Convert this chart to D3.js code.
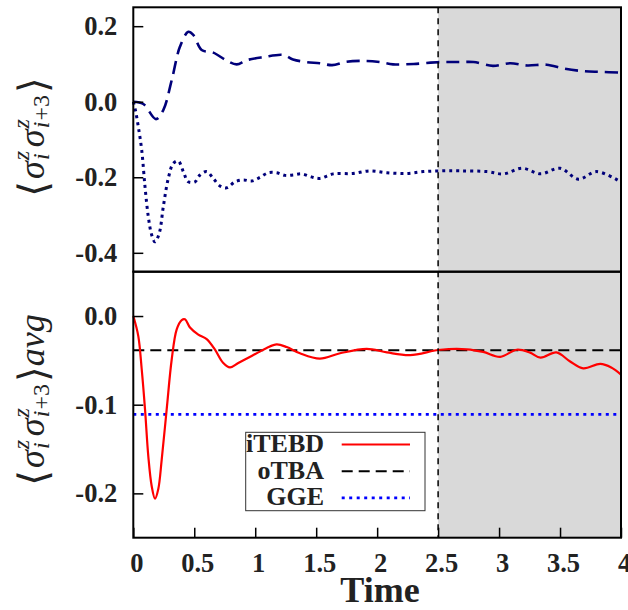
<!DOCTYPE html>
<html>
<head>
<meta charset="utf-8">
<script src="https://cdn.jsdelivr.net/npm/d3@7"></script>
<style>
  body { margin: 0; background: #fff; }
  svg { display: block; }
</style>
</head>
<body>
<div id="chart"></div>
<script>
// ---- data ----
const xTicks = [0, 0.5, 1, 1.5, 2, 2.5, 3, 3.5, 4];
const topTicks = [0.2, 0.0, -0.2, -0.4];
const botTicks = [0.0, -0.1, -0.2];
const shadeStart = 2.5;

// top panel, dashed curve
const dashT = [0, 0.082, 0.186, 0.246, 0.315, 0.383, 0.451, 0.492, 0.561, 0.656, 0.766, 0.848, 0.93, 1.067, 1.23, 1.31, 1.42, 1.53, 1.63, 1.75, 1.915, 2.02, 2.13, 2.30, 2.52, 2.68, 2.79, 2.95, 3.09, 3.23, 3.39, 3.53, 3.69, 3.83, 4.0];
const dashV = [0, -0.006, -0.046, -0.022, 0.057, 0.146, 0.185, 0.177, 0.137, 0.130, 0.109, 0.099, 0.110, 0.118, 0.124, 0.112, 0.105, 0.102, 0.097, 0.106, 0.108, 0.105, 0.099, 0.100, 0.105, 0.105, 0.105, 0.095, 0.102, 0.096, 0.098, 0.088, 0.081, 0.079, 0.077];

// top panel, dotted curve
const dotT = [0, 0.014, 0.041, 0.069, 0.096, 0.123, 0.151, 0.178, 0.213, 0.246, 0.287, 0.328, 0.369, 0.41, 0.451, 0.506, 0.547, 0.602, 0.656, 0.711, 0.766, 0.834, 0.902, 0.971, 1.04, 1.107, 1.176, 1.245, 1.31, 1.38, 1.46, 1.53, 1.64, 1.80, 1.94, 2.08, 2.24, 2.38, 2.52, 2.68, 2.90, 3.035, 3.19, 3.34, 3.50, 3.65, 3.80, 3.98];
const dotV = [0, -0.017, -0.066, -0.128, -0.225, -0.304, -0.353, -0.371, -0.348, -0.278, -0.203, -0.163, -0.157, -0.185, -0.212, -0.212, -0.194, -0.185, -0.203, -0.223, -0.228, -0.212, -0.207, -0.210, -0.200, -0.188, -0.188, -0.195, -0.194, -0.191, -0.199, -0.203, -0.191, -0.190, -0.183, -0.188, -0.190, -0.185, -0.183, -0.183, -0.185, -0.191, -0.176, -0.191, -0.176, -0.205, -0.185, -0.209];

// bottom panel, iTEBD
const tebdT = [0, 0.041, 0.069, 0.096, 0.123, 0.151, 0.178, 0.205, 0.233, 0.274, 0.315, 0.356, 0.397, 0.424, 0.465, 0.533, 0.602, 0.67, 0.738, 0.793, 0.861, 0.943, 1.025, 1.094, 1.176, 1.258, 1.367, 1.53, 1.696, 1.915, 2.08, 2.27, 2.52, 2.735, 2.87, 3.01, 3.145, 3.25, 3.34, 3.47, 3.58, 3.69, 3.83, 3.92, 4.0];
const tebdV = [0, -0.0226, -0.060, -0.105, -0.158, -0.192, -0.206, -0.195, -0.162, -0.105, -0.049, -0.015, -0.0045, -0.0037, -0.013, -0.021, -0.026, -0.038, -0.053, -0.058, -0.053, -0.047, -0.041, -0.036, -0.032, -0.035, -0.042, -0.048, -0.042, -0.037, -0.041, -0.044, -0.038, -0.0375, -0.0405, -0.046, -0.038, -0.041, -0.047, -0.041, -0.051, -0.059, -0.054, -0.058, -0.066];

const otbaValue = -0.0387;
const ggeValue = -0.111;

const legendNames = ["iTEBD", "oTBA", "GGE"];

// ---- layout ----
const width = 628, height = 610;
const left = 133.3, right = 621;
const top1 = 7.3, mid = 271.7, bottom = 537.7;
const serif = "'Liberation Serif', 'Times New Roman', serif";

const svg = d3.select("#chart").append("svg")
  .attr("width", width)
  .attr("height", height);

const x = d3.scaleLinear().domain([0, 4]).range([left, right]);
const yTop = d3.scaleLinear().domain([-0.45, 0.25]).range([mid, top1]);
const yBot = d3.scaleLinear().domain([-0.25, 0.05]).range([bottom, mid]);

// shaded region
svg.append("rect")
  .attr("x", x(shadeStart)).attr("y", top1)
  .attr("width", x(4) - x(shadeStart)).attr("height", bottom - top1)
  .attr("fill", "#d9d9d9");

const styles = {
  navyDash: { stroke: "#00007a", width: 2.6, dash: "13,7" },
  navyDot: { stroke: "#00007a", width: 3, dash: "3,4" },
  red: { stroke: "#ff0000", width: 2.2, dash: null },
  black: { stroke: "#000", width: 2, dash: "11,6" },
  blue: { stroke: "#0000ff", width: 2.8, dash: "3,4.5" }
};

function drawCurve(ts, vs, yScale, st) {
  const pts = ts.map((t, i) => [t, vs[i]]);
  const line = d3.line()
    .x((d) => x(d[0]))
    .y((d) => yScale(d[1]))
    .curve(d3.curveCatmullRom.alpha(0.5));
  svg.append("path")
    .datum(pts)
    .attr("d", line)
    .attr("fill", "none")
    .attr("stroke", st.stroke)
    .attr("stroke-width", st.width)
    .attr("stroke-dasharray", st.dash);
}

// constant lines in bottom panel
function drawFlat(v, st) {
  svg.append("line")
    .attr("x1", x(0)).attr("x2", x(4))
    .attr("y1", yBot(v)).attr("y2", yBot(v))
    .attr("stroke", st.stroke)
    .attr("stroke-width", st.width)
    .attr("stroke-dasharray", st.dash);
}

drawFlat(otbaValue, styles.black);
drawFlat(ggeValue, styles.blue);
drawCurve(tebdT, tebdV, yBot, styles.red);
drawCurve(dashT, dashV, yTop, styles.navyDash);
drawCurve(dotT, dotV, yTop, styles.navyDot);

// vertical dashed marker
svg.append("line")
  .attr("x1", x(shadeStart)).attr("x2", x(shadeStart))
  .attr("y1", top1).attr("y2", bottom)
  .attr("stroke", "#000").attr("stroke-width", 1.5)
  .attr("stroke-dasharray", "6,5");

// axes
const axTop = svg.append("g").attr("transform", `translate(${left},0)`)
  .call(d3.axisLeft(yTop).tickValues(topTicks).tickSize(-10).tickPadding(16).tickFormat(d3.format(".1f")));
const axBot = svg.append("g").attr("transform", `translate(${left},0)`)
  .call(d3.axisLeft(yBot).tickValues(botTicks).tickSize(-10).tickPadding(16).tickFormat(d3.format(".1f")));
const axX = svg.append("g").attr("transform", `translate(0,${bottom})`)
  .call(d3.axisBottom(x).tickValues(xTicks).tickSize(-10).tickPadding(15).tickFormat(d3.format("")));
[axTop, axBot, axX].forEach((g) => {
  g.select(".domain").remove();
  g.selectAll(".tick line").attr("stroke", "#000").attr("stroke-width", 1.5);
  g.selectAll(".tick text")
    .attr("font-family", serif)
    .attr("font-weight", "bold")
    .attr("font-size", 26.5)
    .attr("fill", "#222")
    .text(function () { return this.textContent.replace("−", "-"); });
});
axX.selectAll(".tick text").attr("dx", 3);

// panel frames
[[top1, mid], [mid, bottom]].forEach(([a, b]) => {
  svg.append("rect")
    .attr("x", left).attr("y", a)
    .attr("width", right - left).attr("height", b - a)
    .attr("fill", "none").attr("stroke", "#000").attr("stroke-width", 2);
});

// legend
const lg = svg.append("g");
lg.append("rect")
  .attr("x", 245.7).attr("y", 432.3).attr("width", 179.3).attr("height", 78.4)
  .attr("fill", "#fff").attr("stroke", "#333").attr("stroke-width", 1);
const legendStyles = [styles.red, styles.black, styles.blue];
legendNames.forEach((name, i) => {
  const yy = 444.5 + i * 26.7;
  lg.append("text")
    .attr("x", 324).attr("y", yy + 7.5)
    .attr("text-anchor", "end")
    .attr("font-family", serif)
    .attr("font-weight", "bold").attr("font-size", 26).attr("fill", "#222")
    .text(name);
  lg.append("line")
    .attr("x1", 341.7).attr("x2", 410).attr("y1", yy).attr("y2", yy)
    .attr("stroke", legendStyles[i].stroke)
    .attr("stroke-width", legendStyles[i].width)
    .attr("stroke-dasharray", legendStyles[i].dash);
});

// x label
svg.append("text")
  .attr("x", 380).attr("y", 602)
  .attr("text-anchor", "middle")
  .attr("font-family", serif)
  .attr("font-weight", "bold").attr("font-size", 36).attr("fill", "#222")
  .text("Time");

// y labels: <sigma_i^z sigma_{i+3}^z> with stacked sub/superscripts
function yLabel(cx, cy, withAvg) {
  const fs = 36, ss = 24, br = 40;
  const t = svg.append("text")
    .attr("transform", `translate(${cx},${cy}) rotate(-90)`)
    .attr("text-anchor", "middle")
    .attr("font-family", serif)
    .attr("font-size", fs).attr("fill", "#222");
  t.append("tspan").attr("font-family", "'DejaVu Serif'").attr("font-size", br).attr("dy", 3).text("\u27E8");
  ["i", "i+3"].forEach((sub, k) => {
    t.append("tspan").attr("font-style", "italic").attr("dx", 2).attr("dy", k ? -5 : -3).text("σ");
    t.append("tspan").attr("font-style", "italic").attr("font-size", ss).attr("dx", 1).attr("dy", -15).text("z");
    const s = t.append("tspan").attr("font-size", ss).attr("dx", -9).attr("dy", 20);
    s.append("tspan").attr("font-style", "italic").text("i");
    if (sub !== "i") s.append("tspan").attr("dx", 1).text("+3");
    else s.append("tspan").attr("dx", 2).text("\u200A");
  });
  t.append("tspan").attr("font-family", "'DejaVu Serif'").attr("font-size", br).attr("dx", 2).attr("dy", -2).text("\u27E9");
  if (withAvg) t.append("tspan").attr("font-style", "italic").attr("dy", -3).text("avg");
}
yLabel(44, 137, false);
yLabel(44, 400, true);
</script>
</body>
</html>
